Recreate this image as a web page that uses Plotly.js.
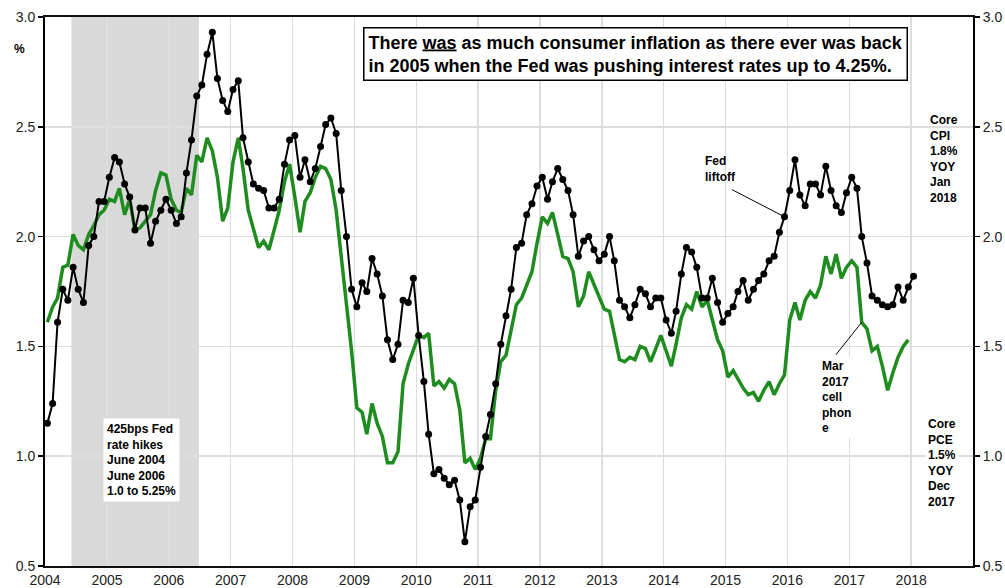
<!DOCTYPE html>
<html>
<head>
<meta charset="utf-8">
<script src="https://cdn.plot.ly/plotly-3.0.1.min.js"></script>
<style>
html,body{margin:0;padding:0;background:#fff;}
#chart{width:1005px;height:588px;}
</style>
</head>
<body>
<div id="chart"></div>
<script>
// Monthly series start (Jan 2004)
const startYear = 2004;

// Core CPI YoY %, Jan 2004 .. Jan 2018
const coreCPI = [
  1.15, 1.24, 1.61, 1.76, 1.71, 1.86, 1.76, 1.70, 1.96, 2.00, 2.16, 2.16,
  2.27, 2.36, 2.34, 2.24, 2.18, 2.03, 2.13, 2.13, 1.97, 2.07, 2.12, 2.17,
  2.12, 2.06, 2.09, 2.29, 2.44, 2.64, 2.69, 2.83, 2.93, 2.72, 2.62, 2.57,
  2.67, 2.71, 2.45, 2.34, 2.24, 2.22, 2.21, 2.13, 2.13, 2.17, 2.33, 2.44,
  2.46, 2.27, 2.35, 2.25, 2.31, 2.41, 2.51, 2.54, 2.47, 2.21, 2.00, 1.76,
  1.68, 1.79, 1.75, 1.90, 1.83, 1.73, 1.53, 1.44, 1.51, 1.71, 1.70, 1.81,
  1.55, 1.34, 1.10, 0.92, 0.94, 0.90, 0.87, 0.89, 0.80, 0.61, 0.77, 0.80,
  0.95, 1.09, 1.19, 1.33, 1.51, 1.64, 1.76, 1.95, 1.97, 2.10, 2.15, 2.23,
  2.27, 2.17, 2.25, 2.31, 2.26, 2.21, 2.10, 1.91, 1.98, 2.00, 1.94, 1.89,
  1.92, 2.00, 1.89, 1.71, 1.68, 1.63, 1.69, 1.76, 1.74, 1.68, 1.72, 1.72,
  1.62, 1.56, 1.66, 1.83, 1.95, 1.93, 1.86, 1.72, 1.72, 1.81, 1.70, 1.61,
  1.65, 1.68, 1.75, 1.80, 1.71, 1.76, 1.80, 1.83, 1.89, 1.91, 2.02, 2.09,
  2.21, 2.35, 2.19, 2.14, 2.24, 2.24, 2.19, 2.32, 2.21, 2.14, 2.11, 2.20,
  2.27, 2.22, 2.00, 1.88, 1.73, 1.71, 1.69, 1.68, 1.69, 1.77, 1.71, 1.77,
  1.82
];

// Core PCE YoY %, Jan 2004 .. Dec 2017
const corePCE = [
  1.61, 1.68, 1.72, 1.86, 1.87, 2.01, 1.96, 1.94, 2.01, 2.05, 2.10, 2.12,
  2.17, 2.16, 2.22, 2.10, 2.17, 2.03, 2.04, 2.07, 2.10, 2.21, 2.29, 2.28,
  2.17, 2.12, 2.11, 2.22, 2.19, 2.37, 2.34, 2.45, 2.39, 2.27, 2.07, 2.13,
  2.34, 2.45, 2.31, 2.12, 2.03, 1.95, 1.98, 1.94, 2.03, 2.12, 2.25, 2.33,
  2.18, 2.02, 2.16, 2.20, 2.27, 2.32, 2.31, 2.26, 2.12, 1.90, 1.71, 1.48,
  1.22, 1.20, 1.10, 1.24, 1.15, 1.09, 0.97, 0.97, 1.02, 1.33, 1.42, 1.49,
  1.55, 1.54, 1.56, 1.32, 1.34, 1.31, 1.35, 1.33, 1.21, 0.97, 0.99, 0.94,
  0.99, 1.08, 1.08, 1.30, 1.43, 1.46, 1.57, 1.69, 1.72, 1.78, 1.84, 1.97,
  2.09, 2.06, 2.11, 2.01, 1.91, 1.90, 1.84, 1.68, 1.73, 1.84, 1.78, 1.72,
  1.67, 1.66, 1.55, 1.44, 1.43, 1.45, 1.44, 1.50, 1.49, 1.43, 1.49, 1.55,
  1.48, 1.41, 1.51, 1.63, 1.69, 1.67, 1.75, 1.68, 1.71, 1.62, 1.53, 1.48,
  1.36, 1.39, 1.35, 1.31, 1.28, 1.29, 1.25, 1.30, 1.34, 1.28, 1.33, 1.37,
  1.62, 1.70, 1.62, 1.71, 1.75, 1.72, 1.78, 1.91, 1.83, 1.92, 1.81, 1.86,
  1.89, 1.86, 1.61, 1.58, 1.48, 1.50, 1.41, 1.30, 1.38, 1.45, 1.50, 1.53
];

const yTickVals = [0.5, 1.0, 1.5, 2.0, 2.5, 3.0];
const yTickText = ['0.5', '1.0', '1.5', '2.0', '2.5', '3.0'];
const xTickVals = ['2004-01-01', '2005-01-01', '2006-01-01', '2007-01-01', '2008-01-01',
  '2009-01-01', '2010-01-01', '2011-01-01', '2012-01-01', '2013-01-01', '2014-01-01',
  '2015-01-01', '2016-01-01', '2017-01-01', '2018-01-01'];
const xTickText = ['2004', '2005', '2006', '2007', '2008', '2009', '2010', '2011',
  '2012', '2013', '2014', '2015', '2016', '2017', '2018'];

function monthDates(n) {
  const out = [];
  for (let i = 0; i < n; i++) {
    const y = startYear + Math.floor(i / 12);
    const m = (i % 12) + 1;
    out.push(y + '-' + (m < 10 ? '0' + m : m) + '-15');
  }
  return out;
}

const FONT = 'Liberation Sans, Arial, sans-serif';

const traces = [
  {
    x: monthDates(corePCE.length), y: corePCE, type: 'scatter', mode: 'lines',
    name: 'Core PCE', line: {color: '#1f8c1f', width: 3.5}, hoverinfo: 'skip',
    xaxis: 'x', yaxis: 'y'
  },
  {
    x: monthDates(coreCPI.length), y: coreCPI, type: 'scatter', mode: 'lines+markers',
    name: 'Core CPI', line: {color: '#000', width: 2},
    marker: {color: '#000', size: 7}, hoverinfo: 'skip',
    xaxis: 'x', yaxis: 'y2'
  }
];

const axisFont = {family: FONT, size: 14, color: '#222'};

const layout = {
  width: 1005, height: 588,
  margin: {l: 45, r: 32, t: 17, b: 22},
  paper_bgcolor: '#fff', plot_bgcolor: '#fff',
  showlegend: false,
  font: {family: FONT},
  xaxis: {
    type: 'date', range: ['2004-01-01', '2019-01-01'],
    tickvals: xTickVals, ticktext: xTickText,
    showgrid: true, gridcolor: '#dddddd', gridwidth: 1.5,
    showline: true, linecolor: '#111', linewidth: 2, mirror: true,
    ticks: '', tickfont: axisFont, automargin: false, zeroline: false
  },
  yaxis: {
    range: [0.5, 3.0], tickvals: yTickVals, ticktext: yTickText,
    showgrid: true, gridcolor: '#dddddd', gridwidth: 1.5,
    showline: true, linecolor: '#000', linewidth: 2,
    ticks: 'outside', ticklen: 5, tickcolor: '#000', tickwidth: 1.5,
    tickfont: axisFont, automargin: false, zeroline: false
  },
  yaxis2: {
    range: [0.5, 3.0], tickvals: yTickVals, ticktext: yTickText,
    overlaying: 'y', side: 'right', anchor: 'x',
    showgrid: false, showline: true, linecolor: '#000', linewidth: 2,
    ticks: 'outside', ticklen: 5, tickcolor: '#000', tickwidth: 1.5,
    tickfont: axisFont, automargin: false, zeroline: false
  },
  shapes: [
    {type: 'rect', xref: 'x', yref: 'paper', x0: '2004-06-05', x1: '2006-06-28',
     y0: 0, y1: 1, fillcolor: '#d9d9d9', line: {width: 0}, layer: 'between'}
  ],
  annotations: [
    {xref: 'paper', yref: 'paper', x: 0.343, y: 0.982, xanchor: 'left', yanchor: 'top',
     text: '<b>There <u>was</u> as much consumer inflation as there ever was back<br>in 2005 when the Fed was pushing interest rates up to 4.25%.</b>',
     showarrow: false, align: 'left', font: {family: FONT, size: 18, color: '#000'},
     bgcolor: '#fff', bordercolor: '#000', borderwidth: 1.5, borderpad: 4},
    {xref: 'paper', yref: 'paper', x: -0.0275, y: 0.9417, xanchor: 'center', yanchor: 'middle',
     text: '<b>%</b>', showarrow: false, font: {family: FONT, size: 12, color: '#000'}},
    {xref: 'paper', yref: 'paper', x: 0.0628, y: 0.269, xanchor: 'left', yanchor: 'top',
     text: '<b>425bps Fed<br>rate hikes<br>June 2004<br>June 2006<br>1.0 to 5.25%</b>',
     showarrow: false, align: 'left', font: {family: FONT, size: 12, color: '#000'},
     bgcolor: '#fff', borderpad: 3},
    {xref: 'x', yref: 'y', x: '2015-12-15', y: 2.09, text: '', showarrow: true,
     arrowhead: 0, arrowwidth: 1, arrowcolor: '#000', ax: -54, ay: -28, standoff: 0},
    {xref: 'paper', yref: 'paper', x: 0.709, y: 0.723, xanchor: 'left', yanchor: 'middle',
     text: '<b>Fed<br>liftoff</b>', showarrow: false, align: 'left',
     font: {family: FONT, size: 12, color: '#000'}},
    {xref: 'x', yref: 'y', x: '2017-03-15', y: 1.61, text: '', showarrow: true,
     arrowhead: 0, arrowwidth: 1, arrowcolor: '#000', ax: -27, ay: 34, standoff: 0},
    {xref: 'paper', yref: 'paper', x: 0.834, y: 0.3078, xanchor: 'left', yanchor: 'middle',
     text: '<b>Mar<br>2017<br>cell<br>phon<br>e</b>', showarrow: false, align: 'left',
     font: {family: FONT, size: 12, color: '#000'}, bgcolor: '#fff', borderpad: 2},
    {xref: 'paper', yref: 'paper', x: 0.9515, y: 0.7413, xanchor: 'left', yanchor: 'middle',
     text: '<b>Core<br>CPI<br>1.8%<br>YOY<br>Jan<br>2018</b>', showarrow: false, align: 'left',
     font: {family: FONT, size: 12, color: '#000'}},
    {xref: 'paper', yref: 'paper', x: 0.9486, y: 0.1885, xanchor: 'left', yanchor: 'middle',
     text: '<b>Core<br>PCE<br>1.5%<br>YOY<br>Dec<br>2017</b>', showarrow: false, align: 'left',
     font: {family: FONT, size: 12, color: '#000'}, bgcolor: '#fff', borderpad: 2}
  ]
};

Plotly.newPlot('chart', traces, layout, {staticPlot: true, displayModeBar: false});
</script>
</body>
</html>
